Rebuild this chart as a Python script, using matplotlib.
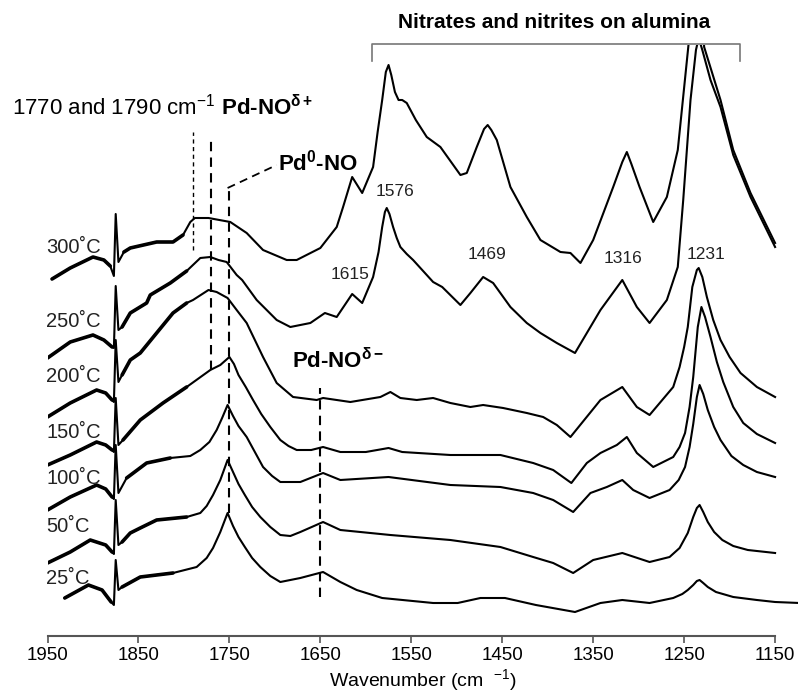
import numpy as np
import matplotlib
matplotlib.use("Agg")
import matplotlib.pyplot as plt

plt.rcParams['font.family'] = ['Liberation Sans', 'DejaVu Sans']
plt.rcParams['mathtext.fontset'] = 'custom'
plt.rcParams['mathtext.rm'] = 'Liberation Sans'
plt.rcParams['mathtext.it'] = 'Liberation Sans:italic'
plt.rcParams['mathtext.bf'] = 'Liberation Sans:bold'

# ---- spectra (wavenumber, stacked absorbance, a.u.) ----
wn_300 = [1945, 1925, 1900, 1888, 1881, 1877, 1875, 1872, 1866, 1859, 1830, 1812, 1801, 1793, 1788,
          1773, 1749, 1731, 1713, 1687, 1676, 1650, 1632, 1625, 1615, 1604, 1592, 1587, 1582, 1578,
          1575, 1572, 1568, 1564, 1560, 1555, 1545, 1533, 1518, 1496, 1489, 1478, 1470, 1466, 1462,
          1456, 1441, 1423, 1408, 1386, 1375, 1364, 1350, 1328, 1318, 1313, 1308, 1299, 1284, 1269,
          1257, 1245, 1240, 1235, 1231, 1228, 1210, 1196, 1177, 1150]
a_300 = [3.43, 3.54, 3.65, 3.62, 3.56, 3.46, 4.08, 3.60, 3.70, 3.74, 3.80, 3.80, 3.87, 4.00, 4.04,
         4.04, 4.00, 3.89, 3.72, 3.62, 3.62, 3.74, 3.95, 4.15, 4.45, 4.29, 4.55, 4.90, 5.22, 5.50,
         5.57, 5.47, 5.30, 5.22, 5.22, 5.19, 5.02, 4.85, 4.75, 4.47, 4.49, 4.75, 4.93, 4.97, 4.92,
         4.82, 4.35, 4.05, 3.82, 3.70, 3.69, 3.59, 3.82, 4.35, 4.60, 4.70, 4.58, 4.35, 4.00, 4.25,
         4.72, 5.79, 6.50, 6.70, 6.30, 5.75, 5.22, 4.72, 4.29, 3.79]

wn_250 = [1950, 1925, 1900, 1888, 1879, 1877, 1875, 1872, 1868, 1859, 1841, 1837, 1815, 1797, 1782,
          1771, 1762, 1753, 1742, 1736, 1720, 1698, 1683, 1661, 1645, 1632, 1615, 1604, 1592, 1586,
          1582, 1579, 1577, 1574, 1570, 1566, 1562, 1555, 1548, 1526, 1516, 1496, 1485, 1471, 1460,
          1441, 1423, 1408, 1390, 1370, 1342, 1318, 1302, 1288, 1269, 1257, 1251, 1243, 1237, 1234,
          1230, 1221, 1210, 1196, 1177, 1150]
a_250 = [2.64, 2.80, 2.87, 2.82, 2.75, 2.74, 3.36, 2.92, 2.95, 3.09, 3.19, 3.27, 3.39, 3.51, 3.64,
         3.65, 3.62, 3.60, 3.47, 3.42, 3.22, 3.02, 2.95, 2.99, 3.09, 3.05, 3.28, 3.19, 3.45, 3.70,
         3.95, 4.10, 4.14, 4.08, 3.95, 3.84, 3.75, 3.68, 3.62, 3.40, 3.35, 3.17, 3.29, 3.45, 3.39,
         3.15, 2.99, 2.89, 2.79, 2.69, 3.12, 3.42, 3.15, 2.99, 3.22, 3.55, 4.22, 5.22, 5.72, 5.84,
         5.72, 5.42, 5.15, 4.67, 4.25, 3.75]

wn_200 = [1950, 1925, 1896, 1886, 1879, 1877, 1875, 1872, 1868, 1859, 1848, 1830, 1812, 1797, 1790,
          1773, 1764, 1752, 1742, 1731, 1713, 1698, 1680, 1654, 1647, 1617, 1584, 1573, 1562, 1544,
          1526, 1507, 1485, 1471, 1449, 1423, 1405, 1390, 1375, 1342, 1318, 1302, 1288, 1262, 1255,
          1250, 1246, 1241, 1236, 1234, 1230, 1225, 1218, 1210, 1200, 1188, 1170, 1150]
a_200 = [2.05, 2.19, 2.32, 2.29, 2.22, 2.20, 2.82, 2.40, 2.47, 2.62, 2.69, 2.89, 3.09, 3.19, 3.22,
         3.32, 3.30, 3.24, 3.12, 2.99, 2.65, 2.39, 2.25, 2.22, 2.24, 2.20, 2.25, 2.30, 2.24, 2.22,
         2.24, 2.19, 2.15, 2.17, 2.14, 2.09, 2.05, 1.97, 1.85, 2.22, 2.35, 2.15, 2.07, 2.35, 2.55,
         2.75, 2.95, 3.35, 3.52, 3.54, 3.45, 3.25, 3.02, 2.82, 2.65, 2.49, 2.35, 2.25]

wn_150 = [1950, 1925, 1896, 1886, 1879, 1877, 1875, 1872, 1867, 1848, 1823, 1797, 1771, 1760, 1755,
          1750, 1745, 1740, 1732, 1724, 1715, 1705, 1694, 1685, 1676, 1660, 1647, 1628, 1600, 1575,
          1560, 1507, 1452, 1416, 1394, 1374, 1357, 1342, 1324, 1313, 1302, 1284, 1262, 1255, 1249,
          1244, 1240, 1235, 1231, 1227, 1221, 1214, 1207, 1196, 1185, 1170, 1150]
a_150 = [1.57, 1.67, 1.80, 1.77, 1.72, 1.70, 2.24, 1.77, 1.82, 2.02, 2.19, 2.35, 2.52, 2.57, 2.61,
         2.65, 2.58, 2.47, 2.35, 2.22, 2.08, 1.95, 1.82, 1.76, 1.72, 1.72, 1.75, 1.70, 1.70, 1.74,
         1.70, 1.67, 1.67, 1.59, 1.52, 1.39, 1.59, 1.69, 1.77, 1.85, 1.69, 1.55, 1.65, 1.75, 1.89,
         2.15, 2.45, 2.95, 3.15, 3.05, 2.85, 2.60, 2.40, 2.15, 1.99, 1.88, 1.79]

wn_100 = [1950, 1925, 1896, 1886, 1879, 1877, 1875, 1872, 1863, 1841, 1815, 1793, 1782, 1772, 1764,
          1758, 1752, 1746, 1740, 1731, 1722, 1713, 1703, 1694, 1672, 1647, 1628, 1575, 1507, 1452,
          1416, 1394, 1372, 1353, 1335, 1318, 1306, 1288, 1266, 1256, 1249, 1244, 1240, 1236, 1233,
          1229, 1224, 1217, 1210, 1198, 1185, 1170, 1150]
a_100 = [1.12, 1.25, 1.37, 1.33, 1.25, 1.23, 1.77, 1.29, 1.44, 1.59, 1.64, 1.66, 1.72, 1.80, 1.92,
         2.04, 2.17, 2.06, 1.96, 1.85, 1.70, 1.55, 1.46, 1.40, 1.40, 1.49, 1.42, 1.45, 1.37, 1.35,
         1.29, 1.22, 1.10, 1.29, 1.35, 1.42, 1.32, 1.24, 1.32, 1.42, 1.55, 1.75, 1.98, 2.25, 2.37,
         2.28, 2.12, 1.95, 1.82, 1.66, 1.57, 1.50, 1.45]

wn_50 = [1950, 1925, 1903, 1886, 1879, 1877, 1875, 1872, 1868, 1859, 1848, 1830, 1797, 1782, 1775,
         1768, 1760, 1752, 1746, 1740, 1733, 1725, 1716, 1705, 1694, 1683, 1672, 1647, 1628, 1573,
         1507, 1452, 1416, 1394, 1372, 1350, 1318, 1288, 1266, 1255, 1246, 1240, 1236, 1233, 1229,
         1224, 1217, 1208, 1196, 1180, 1150]
a_50 = [0.59, 0.70, 0.82, 0.77, 0.70, 0.68, 1.22, 0.77, 0.80, 0.89, 0.94, 1.02, 1.05, 1.09, 1.16,
        1.27, 1.42, 1.62, 1.50, 1.38, 1.27, 1.15, 1.05, 0.95, 0.87, 0.86, 0.90, 1.00, 0.92, 0.87,
        0.82, 0.75, 0.65, 0.59, 0.49, 0.62, 0.69, 0.60, 0.65, 0.74, 0.89, 1.05, 1.14, 1.17, 1.10,
        1.00, 0.90, 0.82, 0.76, 0.72, 0.69]

wn_25 = [1931, 1905, 1890, 1880, 1877, 1875, 1872, 1868, 1848, 1812, 1786, 1775, 1768, 1760, 1752,
         1746, 1740, 1733, 1725, 1716, 1705, 1694, 1672, 1647, 1628, 1610, 1582, 1526, 1499, 1474,
         1447, 1413, 1370, 1342, 1318, 1288, 1262, 1252, 1246, 1240, 1236, 1233, 1229, 1224, 1215,
         1196, 1170, 1150, 1123]
a_25 = [0.24, 0.37, 0.32, 0.20, 0.17, 0.62, 0.32, 0.35, 0.45, 0.49, 0.55, 0.64, 0.74, 0.90, 1.09,
        0.96, 0.85, 0.75, 0.64, 0.55, 0.46, 0.40, 0.44, 0.50, 0.40, 0.32, 0.24, 0.19, 0.19, 0.24,
        0.24, 0.17, 0.10, 0.19, 0.22, 0.19, 0.24, 0.28, 0.32, 0.37, 0.41, 0.42, 0.39, 0.35, 0.30,
        0.25, 0.22, 0.20, 0.19]

spectra = [(wn_300, a_300), (wn_250, a_250), (wn_200, a_200), (wn_150, a_150),
           (wn_100, a_100), (wn_50, a_50), (wn_25, a_25)]

temp_labels = ['300˚C', '250˚C', '200˚C', '150˚C', '100˚C', '50˚C', '25˚C']
temp_label_y = [3.74, 3.00, 2.46, 1.90, 1.43, 0.95, 0.44]

# dashed marker lines: wavenumber, top, bottom
mark_wn = [1790, 1770, 1750, 1650]
mark_top = [4.90, 4.82, 4.32, 2.34]
mark_bot = [3.72, 2.52, 1.09, 0.25]

peak_text = ['1615', '1576', '1469', '1316', '1231']
peak_x = [1617, 1568, 1467, 1317, 1226]
peak_y = [3.47, 4.30, 3.67, 3.63, 3.67]

ticks = [1950, 1850, 1750, 1650, 1550, 1450, 1350, 1250, 1150]

# ---------------------------------------------------------------------------
fig = plt.figure(figsize=(7.98, 6.95), dpi=100)
ax = fig.add_axes([47.5 / 798, 59 / 695, 750.5 / 798, 591 / 695])
ax.set_xlim(1950, 1124.8)
ax.set_ylim(-0.14, 5.77)

for wn, a in spectra:
    wn = np.array(wn)
    a = np.array(a)
    ax.plot(wn, a, color='black', lw=1.5, solid_joinstyle='round')
    # gas phase NO rotational lines -> thick fuzzy band
    fuzz = (wn >= 1879) | ((wn <= 1868) & (wn >= 1797))
    ax.plot(wn, np.where(fuzz, a, np.nan), color='black', lw=2.6, solid_capstyle='round')

for i, (x, t, b) in enumerate(zip(mark_wn, mark_top, mark_bot)):
    if i == 0:
        ax.plot([x, x], [b, t], color='black', lw=1.0, dashes=(3, 2.5))
    else:
        ax.plot([x, x], [b, t], color='black', lw=1.5, dashes=(4.5, 3))
# connector to the Pd0-NO label
ax.plot([1752, 1698], [4.34, 4.57], color='black', lw=1.3, dashes=(4.5, 3), clip_on=False)

for lab, y in zip(temp_labels, temp_label_y):
    ax.text(1951.5, y, lab, fontsize=14.5, ha='left', va='center', color='#222222')

for lab, x, y in zip(peak_text, peak_x, peak_y):
    ax.text(x, y, lab, fontsize=12.5, ha='center', va='center', color='#222222')

# top annotations
t1 = ax.text(1989, 5.07, '1770 and 1790 cm$^{-1}$', fontsize=16, ha='left', va='baseline')
ax.annotate(' Pd-NO$^{\\mathbf{\\delta+}}$', xy=(1, 5.07), xycoords=(t1, 'data'),
            fontsize=16, fontweight='bold', ha='left', va='baseline')
ax.text(1697, 4.52, 'Pd$^{\\mathbf{0}}$-NO', fontsize=16, fontweight='bold', ha='left', va='baseline')
ax.text(1681, 2.54, 'Pd-NO$^{\\mathbf{\\delta-}}$', fontsize=16, fontweight='bold', ha='left', va='baseline')
ax.text(1565, 5.99, 'Nitrates and nitrites on alumina', fontsize=15, fontweight='bold',
        ha='left', va='center')

# bracket over the nitrate / nitrite region
ax.plot([1593, 1593, 1189, 1189], [5.61, 5.78, 5.78, 5.61], color='#777777', lw=1.2, clip_on=False)

# axes styling
for s in ['left', 'right', 'top']:
    ax.spines[s].set_visible(False)
ax.spines['bottom'].set_bounds(1150, 1950)
ax.spines['bottom'].set_color('#555555')
ax.spines['bottom'].set_linewidth(1.5)
ax.set_yticks([])
ax.set_xticks(ticks)
ax.set_xticklabels([str(t) for t in ticks], family=['Liberation Sans Narrow', 'Liberation Sans'])
ax.tick_params(axis='x', direction='out', length=5, width=1.2, color='#555555',
               labelsize=13.5, pad=3)
ax.set_xlabel('Wavenumber (cm  $^{-1}$)', fontsize=14, labelpad=2,
              family=['Liberation Sans Narrow', 'Liberation Sans'])

fig.savefig('out.png', dpi=100)
